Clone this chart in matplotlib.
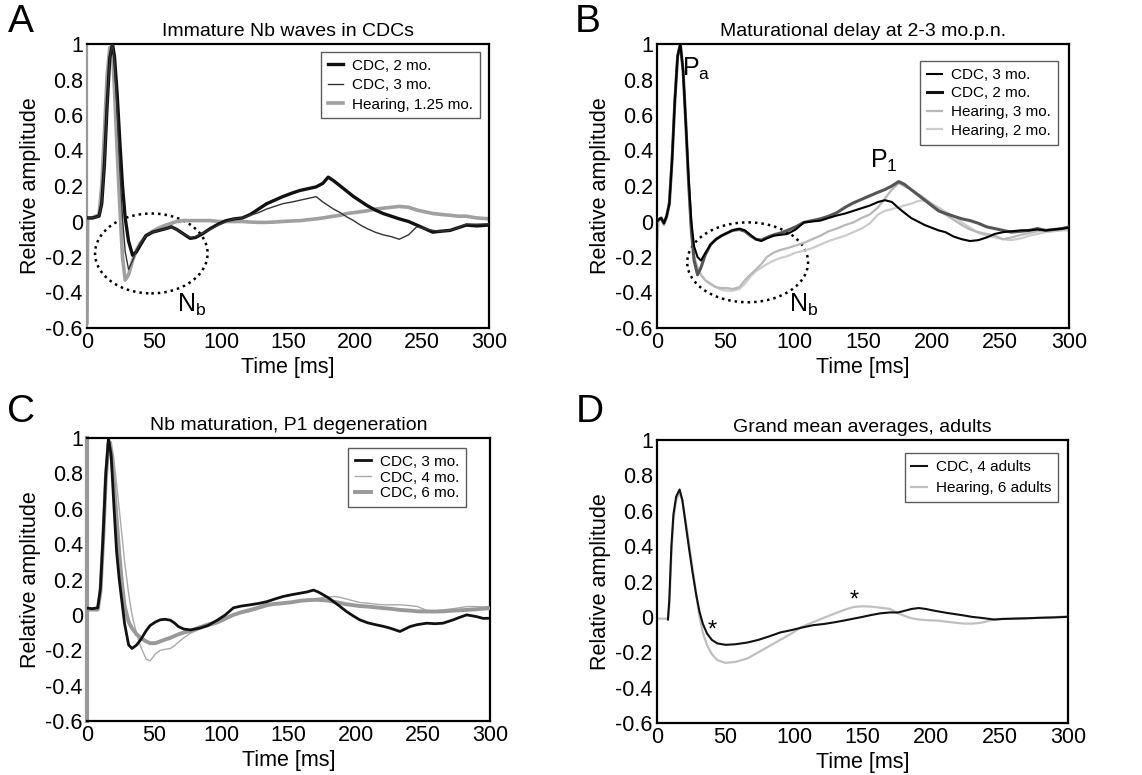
import matplotlib
matplotlib.use("Agg")
import matplotlib.pyplot as plt
from matplotlib.patches import Ellipse

plt.rcParams['font.family'] = ['Liberation Sans', 'DejaVu Sans']
plt.rcParams['mathtext.fontset'] = 'custom'
plt.rcParams['mathtext.rm'] = 'Liberation Sans'
plt.rcParams['mathtext.it'] = 'Liberation Sans'

# ---------------- data ----------------
x_ticks = [0, 50, 100, 150, 200, 250, 300]
y_ticks = [-0.6, -0.4, -0.2, 0, 0.2, 0.4, 0.6, 0.8, 1]
y_tick_labels = ['-0.6', '-0.4', '-0.2', '0', '0.2', '0.4', '0.6', '0.8', '1']

# Panel A
A_time = [0, 0.5, 4, 9, 11, 13, 15, 17, 19, 20.5, 22.5, 24.5, 26.5, 28.5, 31, 34, 37, 40, 44, 49,
          54, 59, 63, 67, 72, 77, 81, 86, 92, 98, 104, 110, 116, 122, 128, 134, 140, 146, 153, 159,
          165, 171, 176, 180, 184, 189, 194, 199, 204, 209, 215, 221, 227, 233, 240, 246, 252, 258, 264, 271,
          277, 283, 291, 300]
A_cdc2 = [0.02, 0.02, 0.02, 0.03, 0.1, 0.32, 0.65, 0.92, 1.0, 0.93, 0.72, 0.45, 0.2, 0.02, -0.11, -0.19, -0.17, -0.13, -0.08, -0.06,
          -0.05, -0.04, -0.03, -0.045, -0.07, -0.095, -0.09, -0.07, -0.04, -0.015, 0.005, 0.015, 0.02, 0.04, 0.07, 0.10, 0.12, 0.14, 0.16, 0.175,
          0.185, 0.195, 0.215, 0.25, 0.23, 0.20, 0.17, 0.14, 0.115, 0.09, 0.065, 0.045, 0.03, 0.015, 0.0, -0.02, -0.04, -0.06, -0.055, -0.05,
          -0.035, -0.02, -0.025, -0.02]
A_cdc3 = [0.02, 0.02, 0.02, 0.03, 0.1, 0.32, 0.65, 0.92, 1.0, 0.9, 0.62, 0.3, 0.02, -0.17, -0.27, -0.22, -0.16, -0.12, -0.08, -0.06,
          -0.05, -0.04, -0.03, -0.045, -0.07, -0.09, -0.085, -0.065, -0.045, -0.02, 0.0, 0.015, 0.02, 0.035, 0.05, 0.07, 0.085, 0.10, 0.11, 0.12,
          0.13, 0.14, 0.11, 0.09, 0.07, 0.05, 0.025, 0.005, -0.02, -0.04, -0.06, -0.075, -0.085, -0.10, -0.075, -0.03, -0.04, -0.05, -0.055, -0.05,
          -0.035, -0.015, -0.015, -0.013]
A_hear = [-0.57, 0.02, 0.02, 0.04, 0.2, 0.5, 0.82, 0.98, 0.95, 0.75, 0.4, 0.08, -0.2, -0.33, -0.3, -0.22, -0.16, -0.12, -0.08, -0.055,
          -0.035, -0.02, -0.01, 0.0, 0.005, 0.005, 0.005, 0.005, 0.005, 0.0, 0.0, 0.0, 0.0, -0.003, -0.005, -0.005, -0.003, 0.0, 0.003, 0.005,
          0.01, 0.015, 0.02, 0.025, 0.03, 0.035, 0.045, 0.05, 0.055, 0.06, 0.07, 0.075, 0.08, 0.085, 0.08, 0.065, 0.055, 0.045, 0.04, 0.035,
          0.03, 0.03, 0.02, 0.015]
A_labels = ['CDC, 2 mo.', 'CDC, 3 mo.', 'Hearing, 1.25 mo.']

# Panel B
B_time = [0, 1, 3, 5, 7, 9, 11, 13, 15, 17, 19, 21, 23, 25, 27, 29.5, 32, 35, 39, 43,
          47, 51, 55, 60, 64, 68, 72, 76, 80, 85, 90, 95, 101, 107, 113, 119, 125, 131, 137, 143,
          149, 155, 161, 166, 171, 176, 180, 185, 190, 195, 200, 205, 210, 216, 222, 228, 234, 240, 246, 252,
          258, 265, 271, 277, 283, 289, 295, 300]
B_cdc3 = [0.0, 0.01, 0.02, -0.01, 0.03, 0.1, 0.35, 0.68, 0.93, 1.0, 0.85, 0.55, 0.25, 0.0, -0.14, -0.2, -0.22, -0.18, -0.13, -0.1,
          -0.08, -0.065, -0.05, -0.04, -0.05, -0.075, -0.1, -0.11, -0.095, -0.08, -0.075, -0.07, -0.045, -0.005, 0.0, 0.005, 0.02, 0.034, 0.045, 0.06,
          0.075, 0.09, 0.11, 0.12, 0.11, 0.075, 0.05, 0.02, 0.0, -0.02, -0.035, -0.05, -0.06, -0.085, -0.1, -0.11, -0.105, -0.09, -0.07, -0.06,
          -0.055, -0.05, -0.05, -0.045, -0.05, -0.045, -0.04, -0.035]
B_cdc2 = [0.0, 0.01, 0.02, -0.01, 0.03, 0.1, 0.35, 0.68, 0.93, 1.0, 0.85, 0.55, 0.22, -0.05, -0.22, -0.3, -0.26, -0.19, -0.13, -0.1,
          -0.08, -0.065, -0.05, -0.045, -0.055, -0.08, -0.1, -0.105, -0.09, -0.075, -0.065, -0.05, -0.03, -0.005, 0.005, 0.015, 0.03, 0.05, 0.08, 0.105,
          0.125, 0.145, 0.165, 0.18, 0.2, 0.225, 0.21, 0.18, 0.15, 0.12, 0.09, 0.06, 0.045, 0.03, 0.015, 0.005, -0.01, -0.03, -0.04, -0.05,
          -0.06, -0.055, -0.05, -0.04, -0.05, -0.045, -0.04, -0.03]
B_hear3 = [-0.15, 0.0, 0.02, -0.02, 0.02, 0.12, 0.38, 0.7, 0.94, 1.0, 0.85, 0.55, 0.22, -0.05, -0.2, -0.26, -0.3, -0.33, -0.35, -0.37,
           -0.375, -0.375, -0.38, -0.37, -0.33, -0.3, -0.27, -0.24, -0.2, -0.175, -0.16, -0.15, -0.135, -0.12, -0.1, -0.08, -0.055, -0.04, -0.02, -0.005,
           0.02, 0.04, 0.08, 0.13, 0.18, 0.215, 0.2, 0.18, 0.155, 0.13, 0.1, 0.07, 0.04, 0.01, -0.02, -0.045, -0.06, -0.07, -0.08, -0.1,
           -0.09, -0.075, -0.065, -0.055, -0.05, -0.045, -0.04, -0.04]
B_hear2 = [-0.1, 0.0, 0.02, -0.02, 0.02, 0.12, 0.38, 0.7, 0.94, 1.0, 0.85, 0.55, 0.22, -0.05, -0.2, -0.26, -0.3, -0.33, -0.355, -0.37,
           -0.385, -0.39, -0.39, -0.38, -0.35, -0.31, -0.28, -0.26, -0.24, -0.22, -0.205, -0.195, -0.175, -0.165, -0.15, -0.13, -0.11, -0.095, -0.08, -0.06,
           -0.04, -0.01, 0.04, 0.06, 0.07, 0.08, 0.09, 0.1, 0.115, 0.12, 0.1, 0.08, 0.055, 0.03, -0.005, -0.035, -0.065, -0.08, -0.09, -0.1,
           -0.105, -0.095, -0.08, -0.07, -0.06, -0.055, -0.05, -0.05]
B_labels = ['CDC, 3 mo.', 'CDC, 2 mo.', 'Hearing, 3 mo.', 'Hearing, 2 mo.']

# Panel C
C_time = [0, 0.5, 4, 8, 10, 12, 14, 16, 18, 20, 22, 24, 26, 28, 31, 33.5, 37, 40, 44, 47,
          51, 54.5, 58, 62, 65, 68, 72, 77, 84, 90, 97, 103, 109, 115, 121.5, 128, 134, 140, 146, 153,
          159, 164, 168.6, 172, 176, 180, 183.5, 188, 193, 198, 203, 209, 215.7, 220.7, 225.6, 233, 240.5, 246, 253, 259,
          265, 272.7, 277, 282.7, 290, 295, 300]
C_cdc3 = [0.038, 0.038, 0.035, 0.04, 0.15, 0.45, 0.8, 1.0, 0.9, 0.62, 0.36, 0.2, 0.075, -0.05, -0.17, -0.19, -0.17, -0.14, -0.09, -0.06,
          -0.04, -0.028, -0.025, -0.03, -0.045, -0.066, -0.08, -0.085, -0.075, -0.06, -0.03, 0.0, 0.04, 0.05, 0.057, 0.065, 0.075, 0.09, 0.104, 0.115,
          0.123, 0.13, 0.14, 0.13, 0.113, 0.095, 0.075, 0.05, 0.02, -0.005, -0.028, -0.045, -0.057, -0.065, -0.075, -0.094, -0.066, -0.055, -0.047, -0.05,
          -0.047, -0.028, -0.015, 0.0, -0.01, -0.02, -0.019]
C_cdc4 = [0.03, 0.03, 0.03, 0.03, 0.12, 0.4, 0.75, 0.97, 0.98, 0.88, 0.74, 0.6, 0.45, 0.3, 0.12, 0.0, -0.11, -0.18, -0.25, -0.26,
          -0.22, -0.2, -0.195, -0.19, -0.175, -0.155, -0.13, -0.104, -0.08, -0.066, -0.05, -0.03, 0.0, 0.01, 0.019, 0.035, 0.047, 0.058, 0.066, 0.072,
          0.08, 0.085, 0.09, 0.094, 0.098, 0.1, 0.104, 0.1, 0.09, 0.08, 0.07, 0.066, 0.06, 0.057, 0.057, 0.057, 0.052, 0.047, 0.025, 0.022,
          0.028, 0.035, 0.04, 0.047, 0.047, 0.045, 0.047]
C_cdc6 = [0.03, 0.03, 0.03, 0.03, 0.13, 0.42, 0.77, 0.97, 0.92, 0.75, 0.55, 0.35, 0.18, 0.05, -0.04, -0.075, -0.11, -0.13, -0.15, -0.16,
          -0.16, -0.15, -0.14, -0.13, -0.12, -0.11, -0.1, -0.09, -0.07, -0.055, -0.04, -0.02, 0.0, 0.015, 0.028, 0.042, 0.057, 0.062, 0.066, 0.072,
          0.08, 0.083, 0.085, 0.085, 0.083, 0.08, 0.075, 0.068, 0.06, 0.055, 0.05, 0.047, 0.042, 0.038, 0.035, 0.028, 0.024, 0.02, 0.019, 0.019,
          0.02, 0.024, 0.026, 0.028, 0.032, 0.035, 0.038]
C_labels = ['CDC, 3 mo.', 'CDC, 4 mo.', 'CDC, 6 mo.']

# Panel D
D_time = [0, 4, 8, 9, 10.5, 12, 14, 16.5, 18.5, 21, 23.5, 26, 28.5, 31, 33.5, 36.5, 40, 44, 50, 57,
          66, 74, 82, 90, 98, 106, 114, 122, 130, 137, 143.5, 150, 156, 163, 170, 176, 181, 186, 191, 196,
          201, 206, 212, 218, 224, 230, 236, 241, 246, 252, 260, 270, 280, 290, 300]
D_cdc = [-0.015, -0.015, -0.015, 0.1, 0.4, 0.58, 0.68, 0.72, 0.66, 0.52, 0.38, 0.25, 0.13, 0.03, -0.04, -0.094, -0.13, -0.15, -0.158, -0.155,
         -0.145, -0.13, -0.11, -0.088, -0.075, -0.06, -0.047, -0.04, -0.03, -0.02, -0.01, 0.0, 0.01, 0.02, 0.025, 0.025, 0.035, 0.045, 0.05, 0.045,
         0.037, 0.03, 0.022, 0.015, 0.008, 0.0, -0.005, -0.01, -0.015, -0.012, -0.01, -0.008, -0.005, -0.003, 0.0]
D_hear = [-0.01, -0.01, -0.01, 0.06, 0.35, 0.55, 0.66, 0.70, 0.66, 0.54, 0.41, 0.27, 0.13, 0.0, -0.09, -0.16, -0.21, -0.245, -0.26, -0.255,
          -0.235, -0.2, -0.165, -0.13, -0.095, -0.055, -0.03, -0.005, 0.02, 0.04, 0.056, 0.06, 0.058, 0.052, 0.045, 0.02, 0.005, -0.008, -0.015, -0.018,
          -0.02, -0.022, -0.028, -0.033, -0.038, -0.038, -0.034, -0.025, -0.015, -0.011, -0.01, -0.008, -0.005, -0.002, 0.004]
D_labels = ['CDC, 4 adults', 'Hearing, 6 adults']

titles = ['Immature Nb waves in CDCs', 'Maturational delay at 2-3 mo.p.n.',
          'Nb maturation, P1 degeneration', 'Grand mean averages, adults']
panel_letters = ['A', 'B', 'C', 'D']

# ---------------- figure ----------------
W, H = 1142, 775
fig = plt.figure(figsize=(W / 100, H / 100), dpi=100)


def rect(l, r, t, b):
    return [l / W, 1 - b / H, (r - l) / W, (b - t) / H]


axA = fig.add_axes(rect(87, 489, 44, 328))
axB = fig.add_axes(rect(657, 1069, 44, 328))
axC = fig.add_axes(rect(87, 490, 438, 721))
axD = fig.add_axes(rect(657, 1068, 440, 723))
axes = [axA, axB, axC, axD]

FS = 15.5
for ax, title in zip(axes, titles):
    ax.set_xlim(0, 300)
    ax.set_ylim(-0.6, 1)
    ax.set_xticks(x_ticks)
    ax.set_xticklabels([str(v) for v in x_ticks], fontsize=FS)
    ax.set_yticks(y_ticks)
    ax.set_yticklabels(y_tick_labels, fontsize=FS)
    ax.tick_params(length=0, pad=3)
    ax.set_xlabel('Time [ms]', fontsize=FS, labelpad=3)
    ax.set_ylabel('Relative amplitude', fontsize=FS, labelpad=3)
    ax.set_title(title, fontsize=14, pad=6)
    for s in ax.spines.values():
        s.set_linewidth(1.6)
        s.set_color('black')

leg_kw = dict(loc='upper right', borderaxespad=0, fontsize=11, frameon=True,
              fancybox=False, edgecolor='#333333', handlelength=1.0,
              borderpad=0.45, handletextpad=0.6)

# Panel A
axA.plot(A_time, A_hear, color='#a0a0a0', lw=2.6, label=A_labels[2], zorder=2)
axA.plot(A_time, A_cdc2, color='#111111', lw=2.4, label=A_labels[0], zorder=3)
axA.plot(A_time, A_cdc3, color='#333333', lw=1.0, label=A_labels[1], zorder=4)
axA.spines['left'].set_color('#999999')
h, l = axA.get_legend_handles_labels()
order = [1, 2, 0]
axA.legend([h[i] for i in order], [l[i] for i in order],
           bbox_to_anchor=(0.978, 0.972), labelspacing=0.35, **leg_kw)
axA.add_patch(Ellipse((48, -0.18), 84, 0.45, fill=False, ls=(0, (1, 1.6)), lw=1.8, color='black'))
axA.text(78, -0.47, r'N$_\mathrm{b}$', fontsize=18, ha='center', va='center')

# Panel B
axB.plot(B_time, B_hear2, color='#cccccc', lw=1.6, label=B_labels[3], zorder=2)
axB.plot(B_time, B_hear3, color='#b8b8b8', lw=1.6, label=B_labels[2], zorder=2)
axB.plot(B_time, B_cdc2, color='#555555', lw=2.2, label=B_labels[1], zorder=3)
axB.plot(B_time, B_cdc3, color='#000000', lw=1.5, label=B_labels[0], zorder=4)
h, l = axB.get_legend_handles_labels()
order = [3, 2, 1, 0]
legB = axB.legend([h[i] for i in order], [l[i] for i in order],
                  bbox_to_anchor=(0.973, 0.94), labelspacing=0.3, **leg_kw)
legB.get_lines()[1].set_color('#111111')
axB.add_patch(Ellipse((66, -0.23), 88, 0.45, fill=False, ls=(0, (1, 1.6)), lw=1.8, color='black'))
axB.text(107, -0.47, r'N$_\mathrm{b}$', fontsize=18, ha='center', va='center')
axB.text(29, 0.86, r'P$_\mathrm{a}$', fontsize=18, ha='center', va='center')
axB.text(165, 0.34, r'P$_\mathrm{1}$', fontsize=18, ha='center', va='center')

# Panel C
axC.plot(C_time, C_cdc4, color='#aaaaaa', lw=1.0, label=C_labels[1], zorder=2)
axC.plot(C_time, C_cdc6, color='#999999', lw=2.8, label=C_labels[2], zorder=3)
axC.plot(C_time, C_cdc3, color='#111111', lw=2.0, label=C_labels[0], zorder=4)
axC.spines['left'].set_color('#999999')
axC.spines['left'].set_linewidth(3)
h, l = axC.get_legend_handles_labels()
order = [2, 0, 1]
axC.legend([h[i] for i in order], [l[i] for i in order],
           bbox_to_anchor=(0.94, 0.965), labelspacing=0.12, **leg_kw)

# Panel D
axD.plot(D_time, D_hear, color='#c0c0c0', lw=1.6, label=D_labels[1], zorder=2)
axD.plot(D_time[2:], D_cdc[2:], color='#111111', lw=1.5, label=D_labels[0], zorder=3)
h, l = axD.get_legend_handles_labels()
order = [1, 0]
axD.legend([h[i] for i in order], [l[i] for i in order],
           bbox_to_anchor=(0.976, 0.953), labelspacing=0.45, **leg_kw)
axD.text(40, -0.08, '*', fontsize=17, ha='center', va='center')
axD.text(144, 0.09, '*', fontsize=17, ha='center', va='center')

# panel letters
for (x, y), letter in zip([(21, 22), (588, 22), (21, 412), (590, 412)], panel_letters):
    fig.text(x / W, 1 - y / H, letter, fontsize=28, ha='center', va='center')

fig.savefig('out.png', dpi=100)
